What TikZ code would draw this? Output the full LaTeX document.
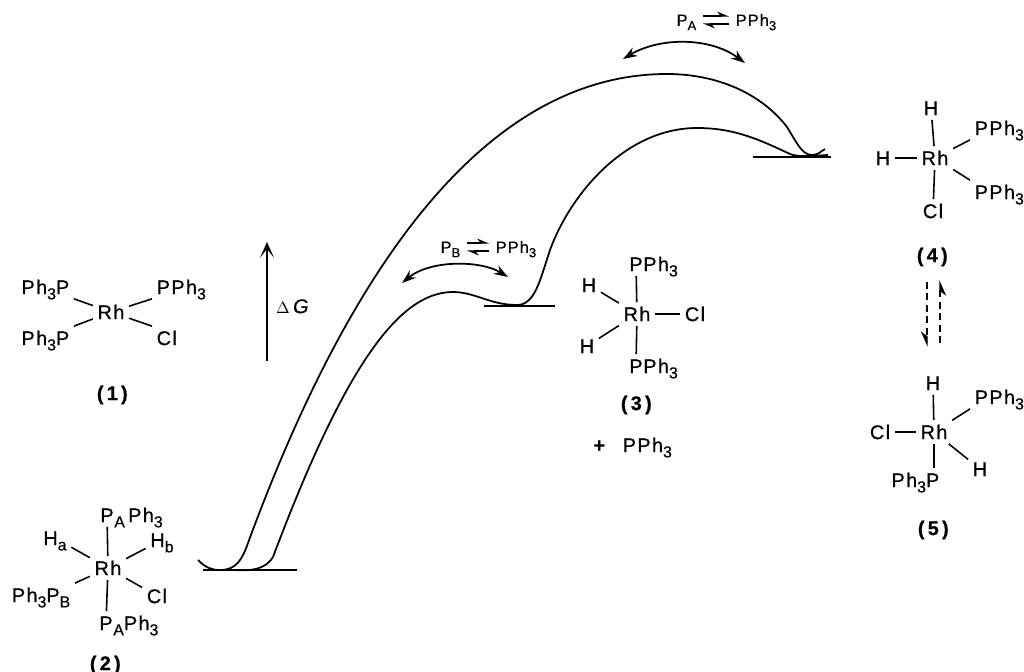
\documentclass[tikz,border=0pt]{standalone}
\usepackage{fontspec}
\setmainfont[LetterSpace=7,FakeBold=0.6]{Liberation Sans}
\usetikzlibrary{arrows.meta}
\newcommand{\lsub}[1]{\raisebox{-.5ex}{\scalebox{.8}{#1}}}
\newcommand{\ligfont}{\fontsize{11.3}{13}\selectfont}
\newcommand{\eqfont}{\fontsize{9.3}{10}\selectfont}

\begin{document}
\begin{tikzpicture}[x=0.02cm,y=-0.02cm,
	every node/.style={font=\ligfont,text height=8.1pt,text depth=0pt,inner sep=2.5pt},
	tail/.style={anchor=west,inner xsep=0pt,xshift=-2.5pt},
	small/.style={font=\eqfont,text height=6.7pt},
	bond/.style={line width=0.9pt},
	curve/.style={line width=1pt,line join=round},
	swing/.style={line width=1pt,{Stealth[length=8pt,width=5.5pt]}-{Stealth[length=8pt,width=5.5pt]}},
	harp/.style={line width=0.7pt,shorten >=1pt,shorten <=1pt,-{Stealth[harpoon,length=6pt,width=5pt]}},
	dashes/.style={line width=0.8pt,dash pattern=on 4pt off 2.5pt,-{Stealth[harpoon,swap,length=8pt,width=7pt]}}]
	\useasboundingbox (0,0) rectangle (1024,672);
	% energy profile
	\draw[curve] (203,570) -- (297,570);
	\draw[curve] (484,306) -- (555,306);
	\draw[curve] (753,157) -- (831,157);
	\draw[curve] (198,560) .. controls (206,568) and (212,570) .. (220,570) .. controls (236,570) and (242,560) .. (248,543)
		.. controls (334,309) and (467,74) .. (667,74) .. controls (715,74) and (760,92) .. (787,127)
		.. controls (797,143) and (802,155) .. (812,155) .. controls (818,155) and (820,152) .. (825,149);
	\draw[curve] (235,570) .. controls (250,571) and (265,570) .. (273,557) .. controls (346,363) and (400,292) .. (453,292)
		.. controls (475,292) and (490,305) .. (517,305) .. controls (535,305) and (540,280) .. (550,250)
		.. controls (570,195) and (625,128) .. (697,128) .. controls (735,128) and (760,140) .. (790,154)
		.. controls (797,157) and (810,156) .. (828,155);
	% free energy axis
	\coordinate (gLow) at (267,361);
	\coordinate (gTop) at (267,242);
	\draw[line width=1pt,-{Stealth[length=9pt,width=8pt,inset=5pt]}] (gLow) -- (gTop);
	\node (dG) at (293,306) {{\scalebox{.85}{$\Delta$}}\,\textit{G}};
	% exchange labels
	\coordinate (swAl) at (402,283);
	\coordinate (swAr) at (508,277);
	\coordinate (swBl) at (623,59);
	\coordinate (swBr) at (745,63);
	\draw[swing] (swAl) .. controls (430,260) and (480,260) .. (swAr);
	\draw[swing] (swBl) .. controls (660,37) and (710,37) .. (swBr);
	\node[small,anchor=east] (pB) at (465,247) {P\lsub{B}};
	\node[small,anchor=west] (ppB) at (491,247) {PPh\lsub{3}};
	\draw[harp] ([yshift=.08cm]pB.east) -- ([yshift=.08cm]ppB.west);
	\draw[harp] ([yshift=-.08cm]ppB.west) -- ([yshift=-.08cm]pB.east);
	\node[small,anchor=east] (pA) at (701,20) {P\lsub{A}};
	\node[small,anchor=west] (ppA) at (731,20) {PPh\lsub{3}};
	\draw[harp] ([yshift=.08cm]pA.east) -- ([yshift=.08cm]ppA.west);
	\draw[harp] ([yshift=-.08cm]ppA.west) -- ([yshift=-.08cm]pA.east);
	% complex 1
	\node (rhO) at (111,312) {Rh};
	\node[anchor=east] (pOa) at (74,287) {Ph\lsub{3}P};
	\node[anchor=east] (pOb) at (74,338) {Ph\lsub{3}P};
	\node[anchor=west] (pOc) at (152,287) {PPh\lsub{3}};
	\node[anchor=west] (clO) at (152,338) {Cl};
	\node (nO) at (113,393) {\textbf{(\,1\,)}};
	\foreach \u/\v in {rhO/pOa.south east, rhO/pOb.north east, rhO/pOc.south west, rhO/clO.north west} {\draw[bond] (\u) -- (\v);}
	% complex 2
	\node (rhT) at (108,568) {Rh};
	\node (pTa) at (107,515) {P};
	\node[tail] (phTa) at (pTa.east) {\lsub{A}\,Ph\lsub{3}};
	\node (hTa) at (55,538) {H\lsub{a}};
	\node (hTb) at (162,540) {H\lsub{b}};
	\node[anchor=east] (pTb) at (75,595) {Ph\lsub{3}P\lsub{B}};
	\node (clT) at (157,596) {Cl};
	\node (pTc) at (106,623) {P};
	\node[tail] (phTc) at (pTc.east) {\lsub{A}Ph\lsub{3}};
	\node (nT) at (106,663) {\textbf{(\,2\,)}};
	\foreach \u/\v in {rhT/pTa, rhT/hTa, rhT/hTb, rhT/pTb.north east, rhT/clT, rhT/pTc} {\draw[bond] (\u) -- (\v);}
	% complex 3
	\node (rhH) at (637,314) {Rh};
	\node (pHa) at (636,264) {P};
	\node[tail] (phHa) at (pHa.east) {Ph\lsub{3}};
	\node (pHb) at (636,366) {P};
	\node[tail] (phHb) at (pHb.east) {Ph\lsub{3}};
	\node (hHa) at (589,285) {H};
	\node (hHb) at (587,346) {H};
	\node (clH) at (695,314) {Cl};
	\node (nH) at (637,403) {\textbf{(\,3\,)}};
	\node (plus) at (600,445) {\textbf{+}};
	\node[anchor=west] (pFree) at (618,445) {PPh\lsub{3}};
	\foreach \u/\v in {rhH/pHa, rhH/pHb, rhH/hHa, rhH/hHb, rhH/clH} {\draw[bond] (\u) -- (\v);}
	% complex 4
	\node (rhF) at (935,158) {Rh};
	\node (hFa) at (931,108) {H};
	\node (hFb) at (883,158) {H};
	\node[anchor=west] (pFa) at (970,128) {PPh\lsub{3}};
	\node[anchor=west] (pFb) at (970,192) {PPh\lsub{3}};
	\node (clF) at (933,211) {Cl};
	\node (nF) at (933,255) {\textbf{(\,4\,)}};
	\foreach \u/\v in {rhF/hFa, rhF/hFb, rhF/pFa.south west, rhF/pFb.north west, rhF/clF} {\draw[bond] (\u) -- (\v);}
	% 4 and 5 interconvert
	\coordinate (dnA) at (927,282);
	\coordinate (dnB) at (927,347);
	\coordinate (upA) at (940,343);
	\coordinate (upB) at (940,280);
	\draw[dashes] (dnA) -- (dnB);
	\draw[dashes] (upA) -- (upB);
	% complex 5
	\node (rhV) at (934,432) {Rh};
	\node (hVa) at (933,383) {H};
	\node[anchor=west] (pVa) at (970,397) {PPh\lsub{3}};
	\node (clV) at (880,432) {Cl};
	\node[anchor=east] (pVb) at (944,480) {Ph\lsub{3}P};
	\node (hVb) at (980,469) {H};
	\node (nV) at (934,528) {\textbf{(\,5\,)}};
	\foreach \u/\v in {rhV/hVa, rhV/pVa.south west, rhV/clV, rhV/hVb} {\draw[bond] (\u) -- (\v);}
	\draw[bond] (rhV) -- (pVb.north -| rhV);
\end{tikzpicture}
\end{document}
